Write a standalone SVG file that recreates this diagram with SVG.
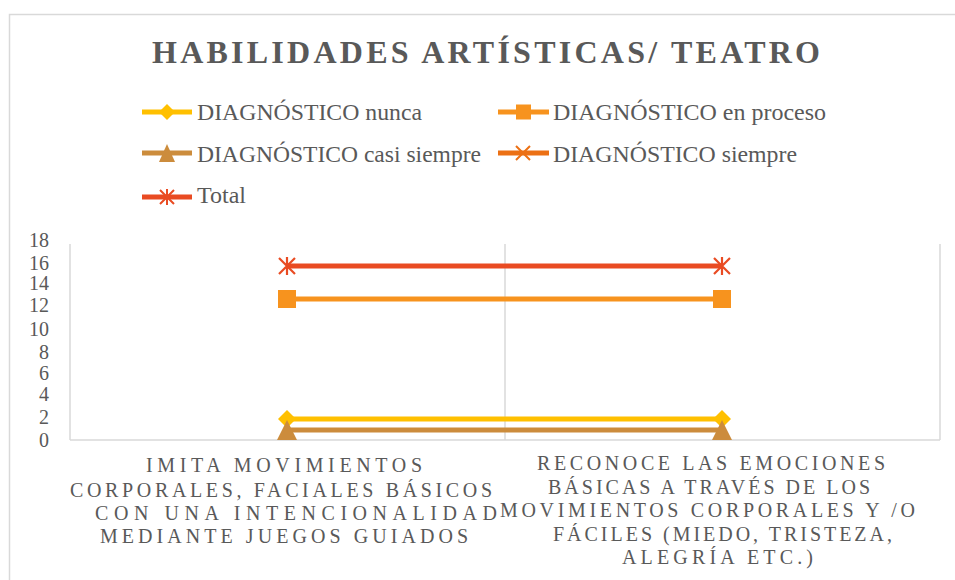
<svg xmlns="http://www.w3.org/2000/svg" width="955" height="580" viewBox="0 0 955 580" font-family="'Liberation Serif', 'Times New Roman', Times, serif">
<style>
.t{fill:#595959}
.title{font-size:32px;font-weight:bold}
.leg{font-size:24px}
.ax{font-size:20px;text-anchor:end}
.cat{font-size:20px}
.grid{stroke:#d9d9d9;stroke-width:1.5;fill:none}
.ser{fill:none;stroke-width:5;stroke-linecap:butt}
</style>
<rect x="0" y="0" width="955" height="580" fill="#ffffff"/>
<path class="grid" d="M9.5 580 V14.5 H955" stroke-width="2"/>
<text class="t title" font-family="Liberation Serif, serif" x="152" y="63" textLength="668" lengthAdjust="spacing">HABILIDADES ARTÍSTICAS/ TEATRO</text>

<g id="legend" font-family="Liberation Serif, serif">
  <g id="leg-nunca">
    <line x1="142" y1="112" x2="192" y2="112" stroke="#FFC000" stroke-width="5"/>
    <polygon points="167,104 175,112 167,120 159,112" fill="#FFC000"/>
    <text class="t leg" x="197" y="120" textLength="225" lengthAdjust="spacingAndGlyphs">DIAGNÓSTICO nunca</text>
  </g>
  <g id="leg-proceso">
    <line x1="498" y1="112" x2="549" y2="112" stroke="#F7931E" stroke-width="5"/>
    <rect x="516" y="104.5" width="15" height="15" fill="#F7931E"/>
    <text class="t leg" x="553" y="120" textLength="273" lengthAdjust="spacingAndGlyphs">DIAGNÓSTICO en proceso</text>
  </g>
  <g id="leg-casi">
    <line x1="142" y1="153" x2="192" y2="153" stroke="#CC8C3C" stroke-width="5"/>
    <polygon points="167,144 175,162 159,162" fill="#CC8C3C"/>
    <text class="t leg" x="197" y="161.5" textLength="284" lengthAdjust="spacingAndGlyphs">DIAGNÓSTICO casi siempre</text>
  </g>
  <g id="leg-siempre">
    <line x1="498" y1="153" x2="549" y2="153" stroke="#EC7014" stroke-width="5"/>
    <path d="M516 146 L530 160 M530 146 L516 160" stroke="#EC7014" stroke-width="2"/>
    <text class="t leg" x="553" y="161.5" textLength="244" lengthAdjust="spacingAndGlyphs">DIAGNÓSTICO siempre</text>
  </g>
  <g id="leg-total">
    <line x1="142" y1="197" x2="192" y2="197" stroke="#E94B22" stroke-width="5"/>
    <path d="M160 190 L174 204 M174 190 L160 204 M167 189 V205" stroke="#E94B22" stroke-width="2"/>
    <text class="t leg" x="197" y="203" textLength="49" lengthAdjust="spacingAndGlyphs">Total</text>
  </g>
</g>

<g id="axes" font-family="Liberation Serif, serif">
  <path class="grid" d="M70 244 V440 M505 244 V440 M940 244 V440 M70 440 H940"/>
  <text class="t ax" x="49" y="247">18</text>
  <text class="t ax" x="49" y="270">16</text>
  <text class="t ax" x="49" y="290">14</text>
  <text class="t ax" x="49" y="312">12</text>
  <text class="t ax" x="49" y="336">10</text>
  <text class="t ax" x="49" y="359">8</text>
  <text class="t ax" x="49" y="380">6</text>
  <text class="t ax" x="49" y="401">4</text>
  <text class="t ax" x="49" y="424">2</text>
  <text class="t ax" x="49" y="447">0</text>
</g>

<g id="connectors">
  <line class="ser" x1="287" y1="419" x2="722" y2="419" stroke="#FFC000"/>
  <line class="ser" x1="287" y1="299" x2="722" y2="299" stroke="#F7931E"/>
  <line class="ser" x1="287" y1="430" x2="722" y2="430" stroke="#CC8C3C"/>
  <line class="ser" x1="287" y1="266" x2="722" y2="266" stroke="#E94B22"/>
</g>

<g id="nunca-points" fill="#FFC000">
  <polygon points="287,410 296,419 287,428 278,419"/>
  <polygon points="722,410 731,419 722,428 713,419"/>
</g>
<g id="proceso-points" fill="#F7931E">
  <rect x="278" y="290" width="18" height="18"/>
  <rect x="713" y="290" width="18" height="18"/>
</g>
<g id="casi-points" fill="#CC8C3C">
  <polygon points="287,420 297,440 277,440"/>
  <polygon points="722,420 732,440 712,440"/>
</g>
<g id="total-points" stroke="#E94B22" stroke-width="2.2" fill="none">
  <path d="M279 258 L295 274 M295 258 L279 274 M287 257 V275"/>
  <path d="M714 258 L730 274 M730 258 L714 274 M722 257 V275"/>
</g>

<g id="cat1" font-family="Liberation Serif, serif">
  <text class="t cat" x="146" y="472" textLength="276" lengthAdjust="spacing">IMITA  MOVIMIENTOS</text>
  <text class="t cat" x="70" y="497" textLength="422" lengthAdjust="spacing">CORPORALES, FACIALES BÁSICOS</text>
  <text class="t cat" x="95" y="520" textLength="402" lengthAdjust="spacing">CON UNA INTENCIONALIDAD</text>
  <text class="t cat" x="100" y="543" textLength="368" lengthAdjust="spacing">MEDIANTE JUEGOS  GUIADOS</text>
</g>
<g id="cat2" font-family="Liberation Serif, serif">
  <text class="t cat" x="537" y="470" textLength="348" lengthAdjust="spacing">RECONOCE LAS EMOCIONES</text>
  <text class="t cat" x="548" y="494" textLength="322" lengthAdjust="spacing">BÁSICAS A TRAVÉS DE LOS</text>
  <text class="t cat" x="500" y="517" textLength="415" lengthAdjust="spacing">MOVIMIENTOS CORPORALES Y /O</text>
  <text class="t cat" x="553" y="541" textLength="339" lengthAdjust="spacing">FÁCILES  (MIEDO, TRISTEZA,</text>
  <text class="t cat" x="622" y="564" textLength="191" lengthAdjust="spacing">ALEGRÍA ETC.)</text>
</g>
</svg>
